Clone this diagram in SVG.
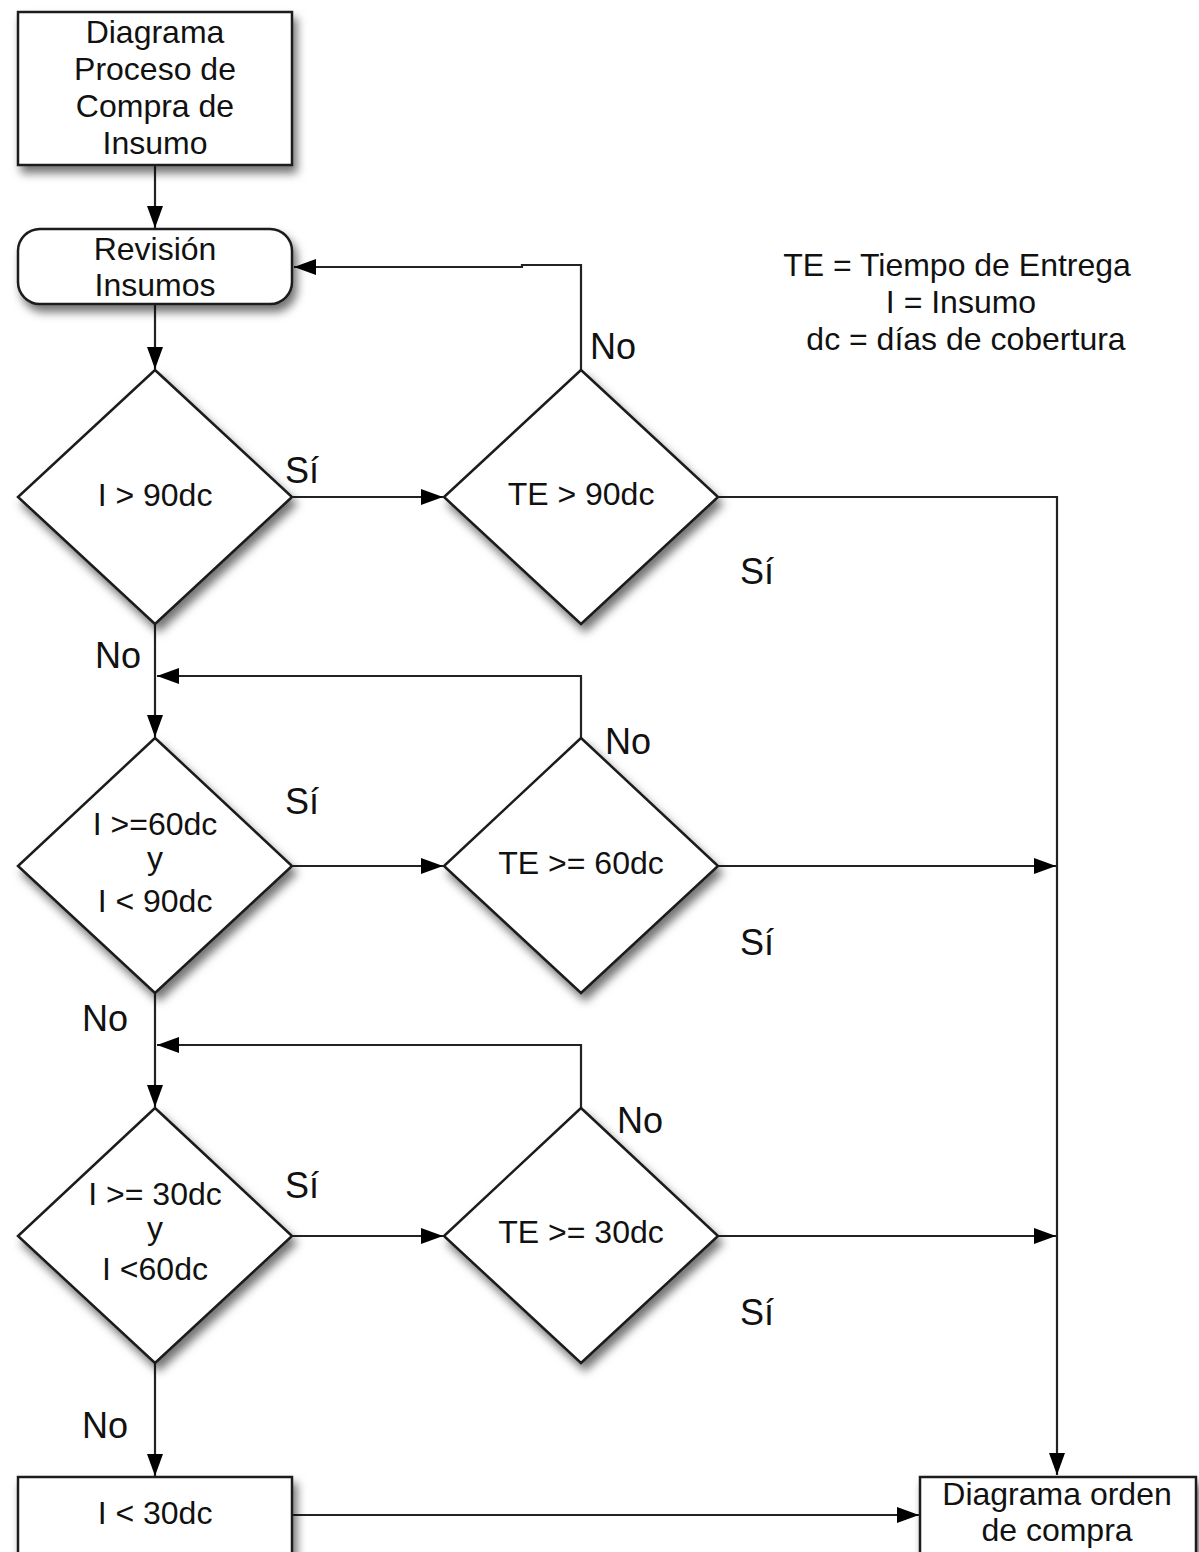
<svg xmlns="http://www.w3.org/2000/svg" width="1199" height="1552" viewBox="0 0 1199 1552">
<defs>
<filter id="sh" x="-20%" y="-20%" width="150%" height="150%">
<feDropShadow dx="4" dy="7" stdDeviation="5" flood-color="#000" flood-opacity="0.55"/>
</filter>
<marker id="ah" markerUnits="userSpaceOnUse" markerWidth="24" markerHeight="18" refX="22" refY="8" orient="auto">
<path d="M0,0 L22,8 L0,16 z" fill="#000"/>
</marker>
</defs>
<style>
.shape{fill:#fff;stroke:#1a1a1a;stroke-width:2.5;filter:url(#sh)}
.t{font-family:"Liberation Sans",Arial,sans-serif;font-size:32px;fill:#111}
.l{font-size:36px}
.c{text-anchor:middle}
.conn path{fill:none;stroke:#222;stroke-width:2.2}
.arr{marker-end:url(#ah)}
</style>
<rect width="1199" height="1552" fill="#fff"/>
<g id="connectors" class="conn">
<path class="arr" d="M155,165 V228"/>
<path class="arr" d="M155,304 V369"/>
<path class="arr" d="M292,497 H443"/>
<path class="arr" d="M581,370 V265 H522 V267 H294"/>
<path class="arr" d="M718,497 H1057 V1475"/>
<path class="arr" d="M155,624 V737"/>
<path class="arr" d="M581,738 V676 H157"/>
<path class="arr" d="M292,866 H443"/>
<path class="arr" d="M718,866 H1056"/>
<path class="arr" d="M155,993 V1107"/>
<path class="arr" d="M581,1108 V1045 H157"/>
<path class="arr" d="M292,1236 H443"/>
<path class="arr" d="M718,1236 H1056"/>
<path class="arr" d="M155,1363 V1476"/>
<path class="arr" d="M292,1515 H919"/>
</g>
<g id="n-start">
<rect class="shape" x="18" y="12" width="274" height="153"/>
<text class="t c" x="155" y="43">Diagrama</text>
<text class="t c" x="155" y="80">Proceso de</text>
<text class="t c" x="155" y="117">Compra de</text>
<text class="t c" x="155" y="154">Insumo</text>
</g>
<g id="n-revision">
<rect class="shape" x="18" y="229" width="274" height="75" rx="22"/>
<text class="t c" x="155" y="260">Revisión</text>
<text class="t c" x="155" y="296">Insumos</text>
</g>
<g id="n-d1">
<polygon class="shape" points="155,370 292,497 155,624 18,497"/>
<text class="t c" x="155" y="506">I &gt; 90dc</text>
</g>
<g id="n-d2">
<polygon class="shape" points="581,370 718,497 581,624 444,497"/>
<text class="t c" x="581" y="505">TE &gt; 90dc</text>
</g>
<g id="n-d3">
<polygon class="shape" points="155,738 292,866 155,993 18,866"/>
<text class="t c" x="155" y="835">I &gt;=60dc</text>
<text class="t c" x="155" y="869">y</text>
<text class="t c" x="155" y="912">I &lt; 90dc</text>
</g>
<g id="n-d4">
<polygon class="shape" points="581,738 718,866 581,993 444,866"/>
<text class="t c" x="581" y="874">TE &gt;= 60dc</text>
</g>
<g id="n-d5">
<polygon class="shape" points="155,1108 292,1236 155,1363 18,1236"/>
<text class="t c" x="155" y="1205">I &gt;= 30dc</text>
<text class="t c" x="155" y="1239">y</text>
<text class="t c" x="155" y="1280">I &lt;60dc</text>
</g>
<g id="n-d6">
<polygon class="shape" points="581,1108 718,1236 581,1363 444,1236"/>
<text class="t c" x="581" y="1243">TE &gt;= 30dc</text>
</g>
<g id="n-lt30">
<rect class="shape" x="18" y="1477" width="274" height="90"/>
<text class="t c" x="155" y="1524">I &lt; 30dc</text>
</g>
<g id="n-orden">
<rect class="shape" x="920" y="1477" width="276" height="90"/>
<text class="t c" x="1057" y="1505">Diagrama orden</text>
<text class="t c" x="1057" y="1541">de compra</text>
</g>
<g id="labels">
<text class="t l" x="285" y="483">Sí</text>
<text class="t l" x="590" y="359">No</text>
<text class="t l" x="740" y="584">Sí</text>
<text class="t l" x="95" y="668">No</text>
<text class="t l" x="285" y="814">Sí</text>
<text class="t l" x="605" y="754">No</text>
<text class="t l" x="740" y="955">Sí</text>
<text class="t l" x="82" y="1031">No</text>
<text class="t l" x="285" y="1198">Sí</text>
<text class="t l" x="617" y="1133">No</text>
<text class="t l" x="740" y="1325">Sí</text>
<text class="t l" x="82" y="1438">No</text>
</g>
<g id="legend">
<text class="t c" x="957" y="276">TE = Tiempo de Entrega</text>
<text class="t c" x="961" y="313">I = Insumo</text>
<text class="t c" x="966" y="350">dc = días de cobertura</text>
</g>
</svg>
